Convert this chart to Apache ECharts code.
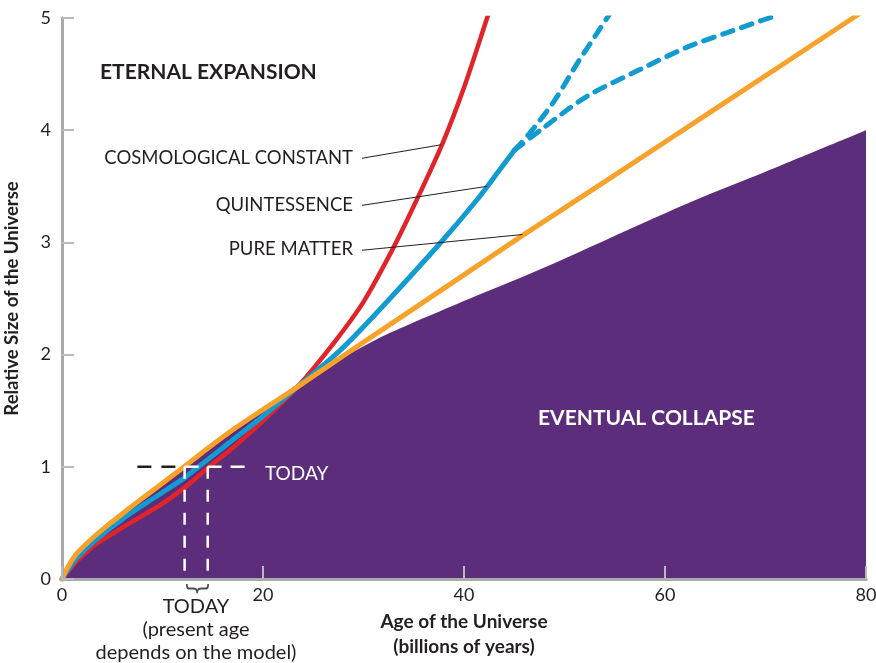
<!DOCTYPE html>
<html>
<head>
<meta charset="utf-8">
<script src="https://cdn.jsdelivr.net/npm/echarts@6/dist/echarts.min.js"></script>
<style>
html,body{margin:0;padding:0;background:#fff;}
#chart{width:876px;height:663px;}
</style>
</head>
<body>
<div id="chart"></div>
<script>
// ---- Data (x: age in billions of years, y: relative size) ----
var xTicks = [0, 20, 40, 60, 80];
var yTicks = [0, 1, 2, 3, 4, 5];

var pureMatter = [[0,0],[0.3,0.06],[0.8,0.14],[1.5,0.23],[3.1,0.37],[4.7,0.49],[6.4,0.61],[8,0.72],[9.8,0.84],[12,0.99],[14,1.13],[17,1.33],[20,1.51],[23.4,1.71],[28,1.99],[35,2.41],[45.8,3.06],[55,3.6],[65,4.19],[78.7,5.0],[80,5.08]];

var quintessence = [[0,0],[0.5,0.07],[1.5,0.19],[3.1,0.33],[6.4,0.56],[9.8,0.76],[12,0.89],[13.3,0.98],[16,1.17],[20,1.45],[23.4,1.71],[27.7,2.04],[31.6,2.4],[37.6,2.99],[41.3,3.38],[43.5,3.64],[45.0,3.82]];

var quintBranchSteep = [[45.0,3.82],[46.5,3.97],[48.9,4.25],[51.3,4.6],[53.5,4.9],[54.6,5.05]];
var quintBranchFlat = [[45.0,3.82],[47.6,4.0],[52.2,4.3],[57.5,4.54],[62.2,4.74],[66.2,4.87],[69.7,4.98],[71,5.02]];

var cosmoConstant = [[0,0],[0.5,0.06],[1.5,0.16],[3.1,0.29],[6.4,0.48],[9.8,0.66],[12.4,0.83],[14.5,0.99],[17,1.17],[20,1.41],[23.4,1.71],[25.5,1.93],[27.7,2.18],[30,2.47],[32.9,2.94],[35.3,3.38],[37.9,3.89],[40,4.38],[42.3,5.0],[42.6,5.08]];

var collapseBoundary = [[0,0],[0.3,0.06],[0.8,0.14],[1.5,0.23],[3.1,0.37],[4.7,0.49],[6.4,0.61],[8,0.72],[9.8,0.84],[12,0.99],[14,1.13],[17,1.33],[20,1.51],[23.4,1.71],[25.5,1.84],[27.7,1.96],[31.6,2.15],[34.3,2.26],[40.6,2.5],[47.6,2.76],[57.5,3.16],[62.8,3.37],[70,3.63],[80,4.0]];

// "Today" markers
var todayBlack = [[7.5,1],[12.1,1]];
var todayWhite = [[12.2,1],[19.0,1]];
var todayAgeMatter = [[12.2,1],[12.2,0]];
var todayAgeCosmo = [[14.5,1],[14.5,0]];
var braceAnchor = [[13.35,-0.085]];

// Leader lines (label end -> curve)
var leaderCosmo = [[29.85,3.75],[37.7,3.87]];
var leaderQuint = [[29.85,3.33],[42.3,3.50]];
var leaderMatter = [[29.85,2.93],[45.8,3.07]];

// ---- Styles ----
var FONT = 'Lato, "Open Sans", sans-serif';
var TXT = '#231f20';
var AXIS = '#a7a9ac';
var RED = '#e0242a', BLUE = '#129bd0', ORANGE = '#f8a22b', PURPLE = '#5c2d7b';

var chart = echarts.init(document.getElementById('chart'), null, {renderer:'canvas'});

function lineSeries(data, color, width, extra) {
  var s = {
    type:'line', data:data, showSymbol:false, symbol:'none', silent:true,
    smooth:0.3, animation:false,
    lineStyle:{color:color, width:width, cap:'round', join:'round'},
    xAxisIndex:0, yAxisIndex:0
  };
  for (var k in (extra||{})) s[k] = extra[k];
  return s;
}
function straight(data, color, width, type, z) {
  return {
    type:'line', data:data, showSymbol:false, symbol:'none', silent:true, animation:false,
    clip:false, z:z||5,
    lineStyle:{color:color, width:width, type:type||'solid'},
    xAxisIndex:0, yAxisIndex:0
  };
}

var axisCommon = {
  axisLine:{show:true, lineStyle:{color:AXIS, width:3}},
  splitLine:{show:false},
  z:10
};

var option = {
  backgroundColor:'#fff',
  animation:false,
  textStyle:{fontFamily:FONT},
  grid:{left:62, right:10, top:18, bottom:84, containLabel:false, outerBoundsMode:'none'},
  xAxis:[
    Object.assign({
      type:'value', min:0, max:80, interval:20, position:'bottom',
      axisTick:{show:true, inside:true, length:13, lineStyle:{color:'#b8babd', width:2}},
      axisLabel:{color:TXT, fontSize:18, margin:7, fontFamily:FONT,
        formatter:function(v){ return xTicks.indexOf(v) >= 0 ? String(v) : ''; }},
      name:'Age of the Universe\n(billions of years)', nameLocation:'middle', nameGap:29,
      nameTextStyle:{color:TXT, fontSize:19, fontWeight:'bold', lineHeight:25, fontFamily:FONT}
    }, axisCommon),
    Object.assign({
      type:'value', min:0, max:80, position:'top',
      axisTick:{show:false}, axisLabel:{show:false}
    }, axisCommon)
  ],
  yAxis:[
    Object.assign({
      type:'value', min:0, max:5, interval:1, position:'left',
      axisTick:{show:true, inside:true, length:12, lineStyle:{color:'#b8babd', width:2}},
      axisLabel:{color:TXT, fontSize:18, margin:11, fontFamily:FONT,
        formatter:function(v){ return yTicks.indexOf(v) >= 0 ? String(v) : ''; }},
      name:'Relative Size of the Universe', nameLocation:'middle', nameGap:40,
      nameTextStyle:{color:TXT, fontSize:18.5, fontWeight:'bold', fontFamily:FONT}
    }, axisCommon),
    Object.assign({
      type:'value', min:0, max:5, position:'right',
      axisTick:{show:false}, axisLabel:{show:false}
    }, axisCommon)
  ],
  series:[
    {
      type:'line', data:collapseBoundary, showSymbol:false, symbol:'none', silent:true,
      smooth:0.3, lineStyle:{width:0, color:PURPLE}, areaStyle:{color:PURPLE, opacity:1},
      z:1, xAxisIndex:0, yAxisIndex:0
    },
    lineSeries(cosmoConstant, RED, 4.5, {z:2}),
    lineSeries(quintessence, BLUE, 5, {z:3}),
    lineSeries(quintBranchSteep, BLUE, 5, {z:3, lineStyle:{color:BLUE, width:5, type:[11,9], cap:'round'}}),
    lineSeries(quintBranchFlat, BLUE, 5, {z:3, lineStyle:{color:BLUE, width:5, type:[11,9], cap:'round'}}),
    lineSeries(pureMatter, ORANGE, 5, {z:4}),
    straight(todayBlack, TXT, 2.5, [14,10], 6),
    straight(todayWhite, '#ffffff', 2.5, [14,9], 6),
    straight(todayAgeMatter, '#ffffff', 2.5, [12,11], 6),
    straight(todayAgeCosmo, '#ffffff', 2.5, [12,11], 6),
    straight(leaderCosmo, TXT, 1, 'solid', 6),
    straight(leaderQuint, TXT, 1, 'solid', 6),
    straight(leaderMatter, TXT, 1, 'solid', 6),
    {
      type:'scatter', data:braceAnchor, symbolSize:0, silent:true, clip:false, z:12,
      xAxisIndex:0, yAxisIndex:0,
      label:{show:true, position:'inside', formatter:'}', rotate:-90,
        fontSize:24, color:TXT, fontFamily:'"DejaVu Sans", sans-serif', fontWeight:'normal'}
    }
  ],
  graphic:[
    {type:'text', left:100, top:62, z:20, silent:true,
      style:{text:'ETERNAL EXPANSION', fill:TXT, font:'bold 21px ' + FONT}},
    {type:'text', x:353, y:158, z:20, silent:true,
      style:{text:'COSMOLOGICAL CONSTANT', fill:TXT, font:'18.5px ' + FONT, textAlign:'right', textVerticalAlign:'middle'}},
    {type:'text', x:353, y:205, z:20, silent:true,
      style:{text:'QUINTESSENCE', fill:TXT, font:'18.5px ' + FONT, textAlign:'right', textVerticalAlign:'middle'}},
    {type:'text', x:353, y:249, z:20, silent:true,
      style:{text:'PURE MATTER', fill:TXT, font:'18.5px ' + FONT, textAlign:'right', textVerticalAlign:'middle'}},
    {type:'text', x:538, y:418, z:20, silent:true,
      style:{text:'EVENTUAL COLLAPSE', fill:'#ffffff', font:'bold 21px ' + FONT, textAlign:'left', textVerticalAlign:'middle'}},
    {type:'text', x:265, y:474, z:20, silent:true,
      style:{text:'TODAY', fill:'#ffffff', font:'19px ' + FONT, textAlign:'left', textVerticalAlign:'middle'}},
    {type:'text', x:196, y:595, z:20, silent:true,
      style:{text:'TODAY\n(present age\ndepends on the model)', fill:TXT, font:'20px ' + FONT,
        lineHeight:23, textAlign:'center', textVerticalAlign:'top'}}
  ]
};
chart.setOption(option);
</script>
</body>
</html>
